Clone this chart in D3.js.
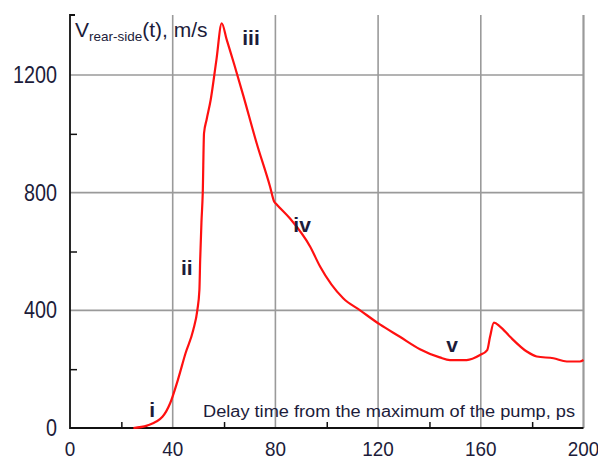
<!DOCTYPE html>
<html>
<head>
<meta charset="utf-8">
<script src="https://cdn.jsdelivr.net/npm/d3@7"></script>
<style>
  body { margin: 0; background: #fff; }
  text { font-family: Arial, "Liberation Sans", sans-serif; fill: #1c1c3a; }
</style>
</head>
<body>
<div id="container"></div>
<script>
// delay time (ps) and rear-side velocity (m/s)
const times = [24.7, 30, 36, 39, 42, 45, 48, 49.6, 50.4, 50.7, 51.2, 51.7, 52.2, 53.2, 54.8, 57, 59.1,
               61, 64, 67.5, 72.7, 77.9, 79.5, 80.5, 85.7, 93.5, 97.4, 106.4, 113, 120.7, 128.5, 136.3,
               144, 148, 154.5, 159.7, 162.5, 163.6, 165.1, 167.5, 171.4, 177.9, 181.8, 188.3, 193.5, 198.6, 200];
const velocity = [0, 8, 38, 84, 163, 254, 333, 401, 469, 571, 700, 798, 1002, 1048, 1116, 1250, 1376,
                  1321, 1235, 1130, 968, 821, 770, 760, 712, 617, 549, 441, 400, 352, 310, 268,
                  240, 231, 231, 248, 265, 310, 358, 345, 310, 260, 243, 237, 226, 226, 231];
const xTicks = [0, 40, 80, 120, 160, 200];
const xMinor = [20, 60, 100, 140, 180];
const yTicks = [0, 400, 800, 1200];
const yMinor = [200, 600, 1000];
const stages = ["i", "ii", "iii", "iv", "v"];
const stageAt = [[32, 37], [45.5, 520], [70.5, 1302], [90.4, 666], [148.8, 258]];

const w = 598;
const h = 459;

const svg = d3.select("#container")
              .append("svg")
              .attr("width", w)
              .attr("height", h);

//THE SCALES
const xScale = d3.scaleLinear().domain([0, 200]).range([70, 583.5]);
const yScale = d3.scaleLinear().domain([0, 1404]).range([428, 15]);
const yTop = yScale(1404);

//THE GRID
svg.selectAll(".vgrid")
   .data(xTicks.slice(1))
   .enter()
   .append("line")
   .attr("x1", d => xScale(d))
   .attr("x2", d => xScale(d))
   .attr("y1", yTop)
   .attr("y2", yScale(0))
   .attr("stroke", "#9a9a9a")
   .attr("stroke-width", d => d === 200 ? 2.2 : 1.6);

svg.selectAll(".hgrid")
   .data(yTicks.slice(1))
   .enter()
   .append("line")
   .attr("x1", xScale(0))
   .attr("x2", xScale(200))
   .attr("y1", d => yScale(d))
   .attr("y2", d => yScale(d))
   .attr("stroke", "#9a9a9a")
   .attr("stroke-width", 1.6);

//THE AXES
const xAxis = d3.axisBottom(xScale).tickValues(xMinor).tickSize(-6).tickFormat("");
svg.append("g")
   .attr("transform", `translate(0, ${yScale(0)})`)
   .call(xAxis)
   .call(g => g.select(".domain").remove())
   .selectAll("line").attr("stroke", "#111").attr("stroke-width", 1.5);

const yAxis = d3.axisLeft(yScale).tickValues(yMinor).tickSize(-7).tickFormat("");
svg.append("g")
   .attr("transform", `translate(${xScale(0)}, 0)`)
   .call(yAxis)
   .call(g => g.select(".domain").remove())
   .selectAll("line").attr("stroke", "#111").attr("stroke-width", 1.5);

// axis lines, with the little hook at the top of the y axis
svg.append("path")
   .attr("d", `M${xScale(0) + 5},${yTop} H${xScale(0)} V${yScale(0)} H${xScale(200)}`)
   .attr("fill", "none")
   .attr("stroke", "#111")
   .attr("stroke-width", 1.8);

//TICK LABELS
svg.selectAll(".ylab")
   .data(yTicks)
   .enter()
   .append("text")
   .attr("text-anchor", "end")
   .attr("font-size", 23)
   .attr("transform", d => `translate(57, ${yScale(d) + 8}) scale(0.86, 1)`)
   .text(d => d);

svg.selectAll(".xlab")
   .data(xTicks)
   .enter()
   .append("text")
   .attr("text-anchor", "middle")
   .attr("font-size", 21)
   .attr("transform", d => `translate(${xScale(d)}, 456) scale(0.9, 1)`)
   .text(d => d);

//THE CURVE
const line = d3.line()
               .x((d, i) => xScale(times[i]))
               .y(d => yScale(d))
               .curve(d3.curveMonotoneX);

svg.append("path")
   .datum(velocity)
   .attr("d", line)
   .attr("fill", "none")
   .attr("stroke", "#ff1010")
   .attr("stroke-width", 2.2)
   .attr("stroke-linejoin", "round");

//STAGE LABELS
svg.selectAll(".stage")
   .data(stages)
   .enter()
   .append("text")
   .attr("text-anchor", "middle")
   .attr("font-size", 21)
   .attr("font-weight", "bold")
   .attr("x", (d, i) => xScale(stageAt[i][0]))
   .attr("y", (d, i) => yScale(stageAt[i][1]))
   .text(d => d);

//TITLES
const title = svg.append("text")
                 .attr("font-size", 21)
                 .attr("x", 75)
                 .attr("y", 37);
title.append("tspan").text("V");
title.append("tspan").attr("font-size", 13.5).attr("dy", 4).text("rear-side");
title.append("tspan").attr("dy", -4).text("(t), m/s");

svg.append("text")
   .attr("x", 203)
   .attr("y", 417)
   .attr("font-size", 16)
   .attr("textLength", 372)
   .attr("lengthAdjust", "spacingAndGlyphs")
   .text("Delay time from the maximum of the pump, ps");
</script>
</body>
</html>
